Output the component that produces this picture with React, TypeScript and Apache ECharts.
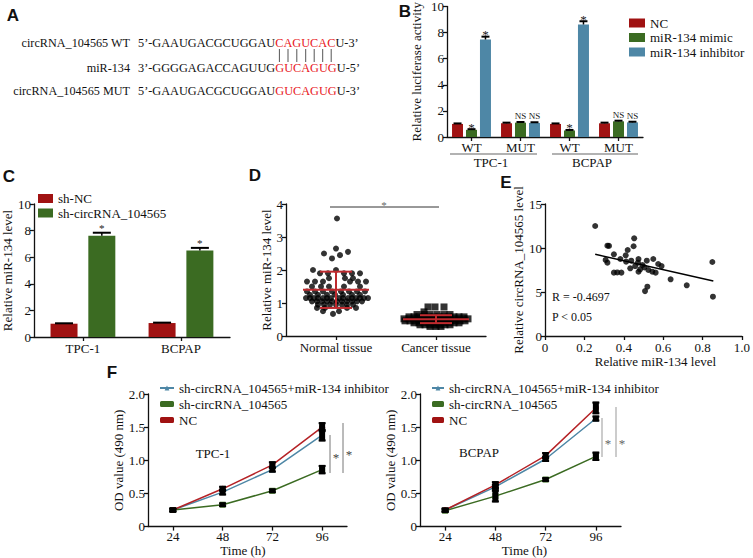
import React, { useEffect, useRef } from 'react';
import * as echarts from 'echarts';

// ---------------- Panel A (sequences) ----------------
const seqLabels = ['circRNA_104565 WT', 'miR-134', 'circRNA_104565 MUT'];
const seqPre = ['5’-GAAUGACGCUGGAU', '3’-GGGGAGACCAGUUG', '5’-GAAUGACGCUGGAU'];
const seqCore = ['CAGUCAC', 'GUCAGUG', 'GUCAGUG'];
const seqPost = ['U-3’', 'U-5’', 'U-3’'];

// ---------------- Panel B ----------------
const bCategories = ['WT', 'MUT', 'WT', 'MUT'];
const bCellLines = ['TPC-1', 'BCPAP'];
const bSeriesNames = ['NC', 'miR-134 mimic', 'miR-134 inhibitor'];
const bNC = [1.0, 1.05, 1.0, 1.05];
const bMimic = [0.55, 1.1, 0.5, 1.2];
const bInhibitor = [7.47, 1.08, 8.62, 1.12];
const bNCErr = [0.04, 0.05, 0.04, 0.05];
const bMimicErr = [0.05, 0.05, 0.04, 0.05];
const bInhibitorErr = [0.22, 0.05, 0.25, 0.05];
const bNCMarks = ['', '', '', ''];
const bMimicMarks = ['*', 'NS', '*', 'NS'];
const bInhibitorMarks = ['*', 'NS', '*', 'NS'];

// ---------------- Panel C ----------------
const cCategories = ['TPC-1', 'BCPAP'];
const cSeriesNames = ['sh-NC', 'sh-circRNA_104565'];
const cShNC = [1.0, 1.05];
const cShCirc = [7.62, 6.5];
const cShNCErr = [0.03, 0.03];
const cShCircErr = [0.22, 0.2];
const cShNCMarks = ['', ''];
const cShCircMarks = ['*', '*'];

// ---------------- Panel D ----------------
const dCategories = ['Normal tissue', 'Cancer tissue'];
// [jitter offset within column, relative miR-134 level]
const dNormal = [
  [0.01, 3.56], [0, 2.65], [0.12, 2.55], [-0.12, 2.5], [0.04, 2.45], [-0.04, 2.35],
  [-0.23, 2.0], [0, 2.0],
  [-0.16, 1.9], [-0.08, 1.9], [0.08, 1.9], [0.16, 1.9], [0.24, 1.9],
  [-0.07, 1.75], [0.09, 1.75], [0.17, 1.75],
  [-0.29, 1.65], [-0.21, 1.65], [-0.13, 1.65], [0.14, 1.65], [0.22, 1.65], [0.3, 1.65],
  [-0.24, 1.5], [-0.15, 1.5], [-0.07, 1.5], [0.08, 1.5], [0.24, 1.5],
  [-0.29, 1.35], [-0.21, 1.35], [-0.13, 1.35], [-0.04, 1.35], [0.05, 1.35], [0.13, 1.35], [0.21, 1.35], [0.29, 1.35],
  [-0.26, 1.25], [-0.18, 1.25], [-0.09, 1.25], [-0.01, 1.25], [0.07, 1.25], [0.16, 1.25], [0.24, 1.25],
  [-0.3, 1.15], [-0.26, 1.15], [-0.22, 1.15], [-0.18, 1.15], [-0.13, 1.15], [-0.09, 1.15], [-0.05, 1.15],
  [0.03, 1.15], [0.07, 1.15], [0.12, 1.15], [0.16, 1.15], [0.2, 1.15], [0.24, 1.15], [0.28, 1.15], [0.32, 1.15],
  [-0.24, 1.05], [-0.19, 1.05], [-0.14, 1.05], [-0.09, 1.05], [-0.04, 1.05], [0.01, 1.05], [0.06, 1.05],
  [0.11, 1.05], [0.16, 1.05], [0.21, 1.05], [0.26, 1.05],
  [-0.18, 0.95], [-0.12, 0.95], [-0.06, 0.95], [0, 0.95], [0.06, 0.95], [0.11, 0.95], [0.17, 0.95],
  [-0.19, 0.85], [-0.11, 0.85], [0.11, 0.85], [0.2, 0.85],
  [-0.13, 0.75], [0.03, 0.75], [-0.03, 0.67],
];
const dCancer = [
  [-0.08, 0.88], [-0.01, 0.88], [0.08, 0.88],
  [-0.12, 0.73],
  [-0.19, 0.65], [-0.12, 0.65], [-0.06, 0.65], [0.01, 0.65], [0.08, 0.65], [0.14, 0.65],
  [-0.27, 0.58], [-0.22, 0.58], [-0.17, 0.58], [-0.12, 0.58], [-0.07, 0.58], [-0.02, 0.58],
  [0.03, 0.58], [0.08, 0.58], [0.13, 0.58], [0.18, 0.58], [0.23, 0.58], [0.28, 0.58],
  [-0.32, 0.52], [-0.27, 0.52], [-0.22, 0.52], [-0.17, 0.52], [-0.12, 0.52], [-0.07, 0.52], [-0.02, 0.52],
  [0.03, 0.52], [0.08, 0.52], [0.13, 0.52], [0.18, 0.52], [0.23, 0.52], [0.28, 0.52], [0.32, 0.52],
  [-0.31, 0.46], [-0.26, 0.46], [-0.21, 0.46], [-0.16, 0.46], [-0.11, 0.46], [-0.06, 0.46], [-0.01, 0.46],
  [0.04, 0.46], [0.09, 0.46], [0.14, 0.46], [0.19, 0.46], [0.24, 0.46], [0.29, 0.46],
  [-0.22, 0.4], [-0.17, 0.4], [-0.12, 0.4], [-0.07, 0.4], [-0.02, 0.4], [0.03, 0.4], [0.08, 0.4],
  [0.13, 0.4], [0.18, 0.4], [0.23, 0.4],
  [-0.16, 0.34], [-0.11, 0.34], [-0.06, 0.34], [-0.01, 0.34], [0.04, 0.34], [0.09, 0.34], [0.14, 0.34],
  [-0.06, 0.29], [0, 0.29], [0.05, 0.29],
];
const dMeans = [1.4, 0.51];
const dSDs = [0.55, 0.12];

// ---------------- Panel E ----------------
const ePoints = [
  [0.255, 12.5], [0.317, 10.26], [0.325, 10.24], [0.453, 11.1], [0.45, 10.2], [0.42, 9.77],
  [0.35, 9.28], [0.41, 9.17], [0.383, 8.75], [0.308, 8.64], [0.317, 8.33], [0.475, 8.75],
  [0.517, 8.56], [0.55, 8.75], [0.575, 8.18], [0.592, 7.95], [0.433, 7.69], [0.35, 7.2],
  [0.367, 7.22], [0.388, 7.2], [0.638, 6.44], [0.72, 5.76], [0.52, 5.6], [0.508, 5.1],
  [0.85, 8.41], [0.853, 4.47], [0.412, 8.45], [0.438, 8.56], [0.472, 8.33], [0.458, 7.95],
  [0.483, 7.57], [0.505, 7.8], [0.525, 7.5], [0.545, 7.31], [0.562, 7.2], [0.475, 7.3], [0.495, 8.07],
];
const eRegression = [[0.255, 9.28], [0.855, 6.25]];
const eStats = ['R = -0.4697', 'P < 0.05'];

// ---------------- Panel F ----------------
const fTimes = ['24', '48', '72', '96'];
const fNames = ['sh-circRNA_104565+miR-134 inhibitor', 'sh-circRNA_104565', 'NC'];
const fTpcInhib = [0.25, 0.52, 0.86, 1.38];
const fTpcInhibErr = [0.02, 0.035, 0.03, 0.08];
const fTpcSh = [0.25, 0.33, 0.54, 0.86];
const fTpcShErr = [0.02, 0.02, 0.02, 0.055];
const fTpcNC = [0.25, 0.57, 0.93, 1.5];
const fTpcNCErr = [0.02, 0.03, 0.04, 0.06];
const fBcInhib = [0.25, 0.6, 1.02, 1.63];
const fBcInhibErr = [0.02, 0.03, 0.03, 0.03];
const fBcSh = [0.24, 0.46, 0.71, 1.06];
const fBcShErr = [0.02, 0.08, 0.02, 0.055];
const fBcNC = [0.25, 0.63, 1.07, 1.79];
const fBcNCErr = [0.02, 0.04, 0.04, 0.08];

// ---------------- styles ----------------
const serif = '"Liberation Serif", "Times New Roman", Times, serif';
const sans = '"Liberation Sans", Arial, Helvetica, sans-serif';
const RED = '#A01212';
const GREEN = '#3B6B22';
const BLUE = '#4E87A6';
const LRED = '#B52226';
const DRED = '#BF2A2E';
const INK = '#111';

const axisLine = { show: true, lineStyle: { color: INK, width: 1.3 } };
const axisTick = { show: true, length: 4, lineStyle: { color: INK, width: 1.3 } };
const lbl = (margin: number, extra: any = {}) => ({ color: INK, fontFamily: serif, fontSize: 13, margin, ...extra });
const nameStyle = { color: INK, fontFamily: serif, fontSize: 13 };

// texts are drawn at 13px (at least) and scaled down when a smaller size is needed
function txt(x: number, y: number, text: string, o: any = {}) {
  const align = o.align || 'left';
  const v = o.v || 'middle';
  const size = o.size || 13;
  const s = size < 13 ? size / 13 : 1;
  return {
    type: 'text', x, y, silent: true, z: 100, scaleX: s, scaleY: s,
    style: {
      text, fill: o.fill || INK, fontFamily: o.family || serif, fontSize: size < 13 ? 13 : size,
      fontWeight: o.weight || 'normal',
      align, verticalAlign: v,
    },
  };
}
function ln(x1: number, y1: number, x2: number, y2: number, stroke = INK, w = 1) {
  return { type: 'line', silent: true, z: 100, shape: { x1, y1, x2, y2 }, style: { stroke, lineWidth: w } };
}

function barErr(name: string, xi: number, yi: number, vals: number[], errs: number[], marks: string[], offset: number, cap: number, starGap: number, starScale: number) {
  return {
    type: 'custom', name: name + ' err', xAxisIndex: xi, yAxisIndex: yi, z: 5, clip: false,
    data: vals.map((v, i) => [i, v, errs[i]]),
    renderItem: (params: any, api: any) => {
      const i = api.value(0);
      const v = api.value(1);
      const e = api.value(2);
      const b = api.coord([i, v]);
      const t = api.coord([i, v + e]);
      const x = b[0] + offset;
      const ch: any[] = [
        { type: 'line', shape: { x1: x, y1: b[1], x2: x, y2: t[1] }, style: { stroke: '#000', lineWidth: 1.5 } },
        { type: 'line', shape: { x1: x - cap, y1: t[1], x2: x + cap, y2: t[1] }, style: { stroke: '#000', lineWidth: 2 } },
      ];
      const m = marks[params.dataIndex];
      if (m) {
        const isStar = m === '*';
        const s = isStar ? starScale : 0.7;
        ch.push({
          type: 'text', x, y: t[1] - (isStar ? starGap : 6), scaleX: s, scaleY: s,
          style: {
            text: m, fill: '#1a1a1a', fontFamily: serif, fontSize: 13, lineHeight: isStar ? 9 : 13,
            align: 'center', verticalAlign: 'middle',
          },
        });
      }
      return { type: 'group', children: ch };
    },
  };
}

function lineErr(name: string, xi: number, yi: number, vals: number[], errs: number[]) {
  return {
    type: 'custom', name: name + ' err', xAxisIndex: xi, yAxisIndex: yi, z: 6, clip: false,
    data: vals.map((v, i) => [i, v, errs[i]]),
    renderItem: (params: any, api: any) => {
      const i = api.value(0);
      const v = api.value(1);
      const e = api.value(2);
      const lo = api.coord([i, v - e]);
      const hi = api.coord([i, v + e]);
      const x = lo[0];
      const cap = 3.5;
      return {
        type: 'group', children: [
          { type: 'rect', shape: { x: x - 3, y: hi[1] - 1, width: 6, height: Math.max(2, lo[1] - hi[1] + 2) }, style: { fill: '#000' } },
          { type: 'line', shape: { x1: x - cap, y1: hi[1], x2: x + cap, y2: hi[1] }, style: { stroke: '#000', lineWidth: 2 } },
          { type: 'line', shape: { x1: x - cap, y1: lo[1], x2: x + cap, y2: lo[1] }, style: { stroke: '#000', lineWidth: 2 } },
        ],
      };
    },
  };
}

function fLine(name: string, xi: number, yi: number, vals: number[], color: string, symbol: string) {
  return {
    type: 'line', name, xAxisIndex: xi, yAxisIndex: yi, data: vals, symbol, symbolSize: 6,
    lineStyle: { color, width: 1.5 }, itemStyle: { color }, z: 3,
  };
}

function buildOption() {
  const graphic: any[] = [];
  // panel letters
  const letters: [string, number, number][] = [['A', 13, 15], ['B', 405, 11], ['C', 9, 176], ['D', 255, 175], ['E', 506, 182], ['F', 112, 372]];
  letters.forEach(([t, x, y]) => graphic.push(txt(x, y, t, { family: sans, size: 17, weight: 'bold', align: 'center' })));

  // panel A
  const rowY = [43, 68, 91];
  const seqScale = 12.3 / 13;
  seqLabels.forEach((l, i) => {
    graphic.push(txt(130, rowY[i], l, { align: 'right', size: 12.2 }));
    graphic.push({
      type: 'text', x: 138, y: rowY[i], silent: true, z: 100, scaleX: seqScale, scaleY: seqScale,
      style: {
        text: `{k|${seqPre[i]}}{r|${seqCore[i]}}{k|${seqPost[i]}}`,
        fontFamily: serif, fontSize: 13, fill: INK,
        align: 'left', verticalAlign: 'middle',
        rich: {
          k: { fill: INK, fontFamily: serif, fontSize: 13 },
          r: { fill: '#E8161B', fontFamily: serif, fontSize: 13 },
        },
      },
    });
  });
  [279.4, 288, 296.8, 305.7, 314.2, 322.7, 331.2].forEach((x) => graphic.push(ln(x, 49, x, 62, '#555', 1)));

  // panel B group lines and labels
  graphic.push(ln(450, 154, 537, 154, '#999', 1.5));
  graphic.push(ln(552, 154, 638, 154, '#999', 1.5));
  graphic.push(txt(491, 162, bCellLines[0], { align: 'center' }));
  graphic.push(txt(592, 162, bCellLines[1], { align: 'center' }));

  // panel D significance
  graphic.push(ln(330, 207, 439, 207, '#333', 1));
  graphic.push(txt(384, 205, '*', { align: 'center', size: 11, fill: '#666666' }));

  // panel E stats
  graphic.push(txt(552, 297, eStats[0], { size: 12 }));
  graphic.push(txt(552, 317, eStats[1], { size: 12 }));

  // panel F annotations
  graphic.push(txt(213, 453, 'TPC-1', { align: 'center' }));
  graphic.push(txt(479, 452, 'BCPAP', { align: 'center' }));
  graphic.push(ln(330, 435, 330, 473, '#777', 1));
  graphic.push(ln(343, 423, 343, 473, '#777', 1));
  graphic.push(txt(336, 457, '*', { align: 'center', fill: '#444444' }));
  graphic.push(txt(349, 454, '*', { align: 'center', fill: '#444444' }));
  graphic.push(ln(602, 418, 602, 457, '#999', 1));
  graphic.push(ln(616, 407, 616, 457, '#999', 1));
  graphic.push(txt(608, 443, '*', { align: 'center', fill: '#666666' }));
  graphic.push(txt(622, 443, '*', { align: 'center', fill: '#666666' }));

  const legendText = { color: INK, fontFamily: serif, fontSize: 13, lineHeight: 14 };

  const f1 = (v: number) => (v === 0 ? '0' : v.toFixed(1));

  return {
    animation: false,
    backgroundColor: '#fff',
    graphic,
    legend: [
      {
        data: bSeriesNames, left: 629, top: 16, orient: 'vertical', icon: 'rect',
        itemWidth: 16, itemHeight: 9, itemGap: 0.5, itemTextGap: 2, padding: 0, textStyle: legendText,
      },
      {
        data: cSeriesNames, left: 38, top: 192, orient: 'vertical', icon: 'rect',
        itemWidth: 15, itemHeight: 9, itemGap: 1.5, itemTextGap: 2, padding: 0, textStyle: { ...legendText, lineHeight: 13 },
      },
      {
        data: fNames, left: 159, top: 381, orient: 'vertical',
        itemWidth: 14, itemHeight: 6, itemGap: 2, itemTextGap: 1, padding: 0, textStyle: legendText,
      },
      {
        data: fNames, left: 431, top: 381, orient: 'vertical',
        itemWidth: 12, itemHeight: 6, itemGap: 2, itemTextGap: 1, padding: 0, textStyle: legendText,
      },
    ],
    grid: [
      { left: 447, top: 4, width: 196, height: 133 },
      { left: 32, top: 204, width: 198, height: 133 },
      { left: 286, top: 204, width: 200, height: 132 },
      { left: 545, top: 204, width: 200, height: 132 },
      { left: 148, top: 394, width: 199, height: 133 },
      { left: 420, top: 394, width: 201, height: 133 },
    ],
    xAxis: [
      { gridIndex: 0, type: 'category', data: bCategories, axisLine, axisTick: { ...axisTick, alignWithLabel: true }, axisLabel: lbl(3.5) },
      { gridIndex: 1, type: 'category', data: cCategories, axisLine, axisTick: { ...axisTick, alignWithLabel: true }, axisLabel: lbl(4.5) },
      { gridIndex: 2, type: 'category', data: dCategories, axisLine, axisTick: { ...axisTick, alignWithLabel: true }, axisLabel: lbl(5) },
      { gridIndex: 2, type: 'value', min: 0, max: 2, show: false },
      {
        gridIndex: 3, type: 'value', min: 0, max: 1, interval: 0.2, axisLine, axisTick, splitLine: { show: false },
        axisLabel: { ...lbl(5), formatter: f1 },
        name: 'Relative miR-134 level', nameLocation: 'middle', nameGap: 19,
        nameTextStyle: { ...nameStyle, padding: [0, 0, 0, 24] },
      },
      {
        gridIndex: 4, type: 'category', data: fTimes, axisLine, axisTick: { ...axisTick, alignWithLabel: true }, axisLabel: lbl(3.5),
        name: 'Time (h)', nameLocation: 'middle', nameGap: 15, nameTextStyle: { ...nameStyle, padding: [0, 9, 0, 0] },
      },
      {
        gridIndex: 5, type: 'category', data: fTimes, axisLine, axisTick: { ...axisTick, alignWithLabel: true }, axisLabel: lbl(3.5),
        name: 'Time (h)', nameLocation: 'middle', nameGap: 15, nameTextStyle: { ...nameStyle, padding: [0, 0, 0, 8] },
      },
    ],
    yAxis: [
      {
        gridIndex: 0, type: 'value', min: 0, max: 10, interval: 2, axisLine, axisTick, splitLine: { show: false }, axisLabel: lbl(3),
        name: 'Relative luciferase activity', nameLocation: 'middle', nameGap: 24, nameTextStyle: nameStyle,
      },
      {
        gridIndex: 1, type: 'value', min: 0, max: 10, interval: 2, axisLine, axisTick, splitLine: { show: false }, axisLabel: lbl(3),
        name: 'Relative miR-134 level', nameLocation: 'middle', nameGap: 19, nameTextStyle: nameStyle,
      },
      {
        gridIndex: 2, type: 'value', min: 0, max: 4, interval: 1, axisLine, axisTick, splitLine: { show: false }, axisLabel: lbl(3),
        name: 'Relative miR-134 level', nameLocation: 'middle', nameGap: 10, nameTextStyle: nameStyle,
      },
      {
        gridIndex: 3, type: 'value', min: 0, max: 15, interval: 5, axisLine, axisTick, splitLine: { show: false }, axisLabel: lbl(3),
        name: 'Relative circRNA_104565 level', nameLocation: 'middle', nameGap: 17, nameTextStyle: nameStyle,
      },
      {
        gridIndex: 4, type: 'value', min: 0, max: 2, interval: 0.5, axisLine, axisTick, splitLine: { show: false },
        axisLabel: { ...lbl(3), formatter: f1 },
        name: 'OD value (490 nm)', nameLocation: 'middle', nameGap: 21, nameTextStyle: nameStyle,
      },
      {
        gridIndex: 5, type: 'value', min: 0, max: 2, interval: 0.5, axisLine, axisTick, splitLine: { show: false },
        axisLabel: { ...lbl(3), formatter: f1 },
        name: 'OD value (490 nm)', nameLocation: 'middle', nameGap: 17, nameTextStyle: nameStyle,
      },
    ],
    series: [
      // B
      { type: 'bar', name: bSeriesNames[0], xAxisIndex: 0, yAxisIndex: 0, data: bNC, barWidth: 11, barGap: '27%', itemStyle: { color: RED } },
      { type: 'bar', name: bSeriesNames[1], xAxisIndex: 0, yAxisIndex: 0, data: bMimic, barWidth: 11, barGap: '27%', itemStyle: { color: GREEN } },
      { type: 'bar', name: bSeriesNames[2], xAxisIndex: 0, yAxisIndex: 0, data: bInhibitor, barWidth: 11, barGap: '27%', itemStyle: { color: BLUE } },
      barErr(bSeriesNames[0], 0, 0, bNC, bNCErr, bNCMarks, -13.97, 4, 2, 1),
      barErr(bSeriesNames[1], 0, 0, bMimic, bMimicErr, bMimicMarks, 0, 4, 2, 1),
      barErr(bSeriesNames[2], 0, 0, bInhibitor, bInhibitorErr, bInhibitorMarks, 13.97, 4, 2, 1),
      // C
      { type: 'bar', name: cSeriesNames[0], xAxisIndex: 1, yAxisIndex: 1, data: cShNC, barWidth: 27, barGap: '40%', itemStyle: { color: RED } },
      { type: 'bar', name: cSeriesNames[1], xAxisIndex: 1, yAxisIndex: 1, data: cShCirc, barWidth: 27, barGap: '40%', itemStyle: { color: GREEN } },
      barErr(cSeriesNames[0], 1, 1, cShNC, cShNCErr, cShNCMarks, -18.9, 9, 5, 0.85),
      barErr(cSeriesNames[1], 1, 1, cShCirc, cShCircErr, cShCircMarks, 18.9, 9, 5, 0.85),
      // D
      {
        type: 'scatter', name: dCategories[0], xAxisIndex: 3, yAxisIndex: 2, symbol: 'circle', symbolSize: 6,
        itemStyle: { color: '#000' }, data: dNormal.map(([j, v]) => [0.5 + j, v]), z: 3,
      },
      {
        type: 'scatter', name: dCategories[1], xAxisIndex: 3, yAxisIndex: 2, symbol: 'rect', symbolSize: 7,
        itemStyle: { color: '#000' }, data: dCancer.map(([j, v]) => [1.5 + j, v]), z: 3,
      },
      {
        type: 'custom', name: 'mean ± SD', xAxisIndex: 3, yAxisIndex: 2, z: 8,
        data: dMeans.map((m, i) => [0.5 + i, m, dSDs[i]]),
        renderItem: (params: any, api: any) => {
          const x = api.value(0);
          const m = api.value(1);
          const s = api.value(2);
          const c = api.coord([x, m]);
          const lo = api.coord([x, m - s]);
          const hi = api.coord([x, m + s]);
          const st = { stroke: DRED, lineWidth: 2 };
          return {
            type: 'group', children: [
              { type: 'line', shape: { x1: c[0] - 33, y1: c[1], x2: c[0] + 33, y2: c[1] }, style: st },
              { type: 'line', shape: { x1: c[0], y1: lo[1], x2: c[0], y2: hi[1] }, style: st },
              { type: 'line', shape: { x1: c[0] - 16, y1: lo[1], x2: c[0] + 16, y2: lo[1] }, style: st },
              { type: 'line', shape: { x1: c[0] - 16, y1: hi[1], x2: c[0] + 16, y2: hi[1] }, style: st },
            ],
          };
        },
      },
      // E
      {
        type: 'scatter', name: 'samples', xAxisIndex: 4, yAxisIndex: 3, symbol: 'circle', symbolSize: 6,
        itemStyle: { color: '#000' }, data: ePoints,
      },
      {
        type: 'line', name: 'fit', xAxisIndex: 4, yAxisIndex: 3, data: eRegression, symbol: 'none',
        lineStyle: { color: '#000', width: 1.5 },
      },
      // F left (TPC-1)
      fLine(fNames[0], 5, 4, fTpcInhib, BLUE, 'triangle'),
      fLine(fNames[1], 5, 4, fTpcSh, GREEN, 'rect'),
      fLine(fNames[2], 5, 4, fTpcNC, LRED, 'circle'),
      lineErr(fNames[0], 5, 4, fTpcInhib, fTpcInhibErr),
      lineErr(fNames[1], 5, 4, fTpcSh, fTpcShErr),
      lineErr(fNames[2], 5, 4, fTpcNC, fTpcNCErr),
      // F right (BCPAP)
      fLine(fNames[0], 6, 5, fBcInhib, BLUE, 'triangle'),
      fLine(fNames[1], 6, 5, fBcSh, GREEN, 'rect'),
      fLine(fNames[2], 6, 5, fBcNC, LRED, 'circle'),
      lineErr(fNames[0], 6, 5, fBcInhib, fBcInhibErr),
      lineErr(fNames[1], 6, 5, fBcSh, fBcShErr),
      lineErr(fNames[2], 6, 5, fBcNC, fBcNCErr),
    ],
  };
}

export default function App() {
  const ref = useRef<HTMLDivElement>(null);
  useEffect(() => {
    if (!ref.current) return;
    const chart = echarts.init(ref.current, undefined, { renderer: 'svg' });
    chart.setOption(buildOption() as any);
    return () => chart.dispose();
  }, []);
  return (
    <div
      ref={ref}
      style={{ position: 'fixed', left: 0, top: 0, width: 753, height: 558, background: '#fff' }}
    />
  );
}
